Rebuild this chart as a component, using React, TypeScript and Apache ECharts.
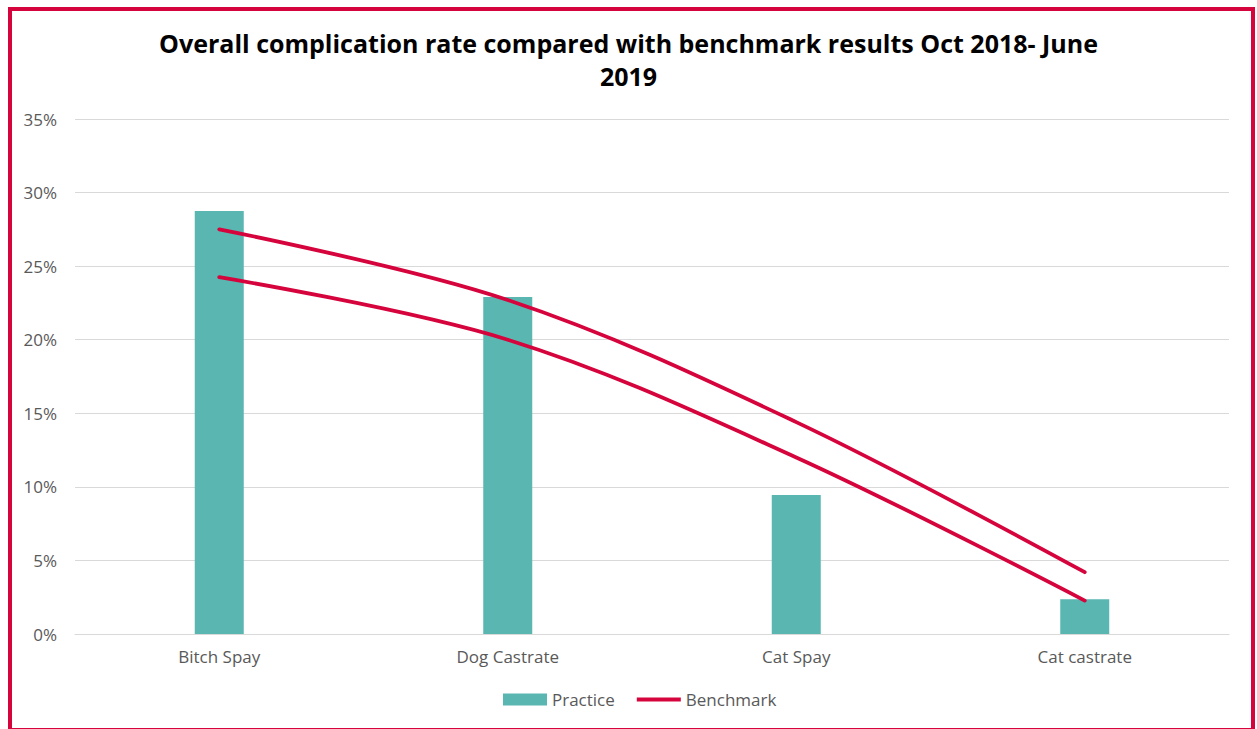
import React, { useEffect, useRef } from "react";
import * as echarts from "echarts";

// Procedure categories on the x axis
const categories = ["Bitch Spay", "Dog Castrate", "Cat Spay", "Cat castrate"];
// Practice complication rate (%)
const practice = [28.75, 22.9, 9.45, 2.37];
// Benchmark range: upper and lower bounds (%)
const benchmarkUpper = [27.5, 22.7, 14.4, 4.2];
const benchmarkLower = [24.25, 20.0, 12.0, 2.27];
// Y axis ticks
const yMax = 35;
const yStep = 5;

const titleText =
  "Overall complication rate compared with benchmark results Oct 2018- June\n2019";

export default function App() {
  const ref = useRef<HTMLDivElement>(null);

  useEffect(() => {
    if (!ref.current) return;
    const chart = echarts.init(ref.current, undefined, { renderer: "svg" });
    const font = "'Open Sans', sans-serif";
    const red = "#d6043c";
    chart.setOption({
      animation: false,
      backgroundColor: "#ffffff",
      textStyle: { fontFamily: font },
      title: {
        text: titleText,
        left: "center",
        top: 21,
        textStyle: {
          fontFamily: font,
          fontSize: 25,
          fontWeight: "bold",
          color: "#000000",
          lineHeight: 33,
        },
      },
      legend: {
        bottom: 16,
        left: 498,
        itemWidth: 44,
        itemHeight: 12,
        itemGap: 22,
        symbolKeepAspect: true,
        data: [
          { name: "Practice", icon: "rect" },
          { name: "Benchmark", icon: "path://M0,0 L44,0 L44,3.8 L0,3.8 Z" },
        ],
        textStyle: { fontFamily: font, fontSize: 17, color: "#595959" },
      },
      grid: { left: 75, right: 28, top: 119, bottom: 95 },
      xAxis: {
        type: "category",
        data: categories,
        axisLine: { lineStyle: { color: "#d9d9d9", width: 1 } },
        axisTick: { show: false },
        axisLabel: { color: "#595959", fontSize: 17, margin: 14, fontFamily: font },
      },
      yAxis: {
        type: "value",
        min: 0,
        max: yMax,
        interval: yStep,
        axisLine: { show: false },
        axisTick: { show: false },
        splitLine: { lineStyle: { color: "#d9d9d9", width: 1 } },
        axisLabel: {
          color: "#595959",
          fontSize: 17,
          margin: 18,
          fontFamily: font,
          formatter: (v: number) => `${v}%`,
        },
      },
      series: [
        {
          name: "Practice",
          type: "bar",
          data: practice,
          barWidth: 49,
          itemStyle: { color: "#59b6b1" },
        },
        {
          name: "Benchmark",
          type: "line",
          data: benchmarkUpper,
          smooth: 0.35,
          symbol: "none",
          lineStyle: { color: red, width: 3.8, cap: "round" },
          itemStyle: { color: red },
        },
        {
          name: "Benchmark",
          type: "line",
          data: benchmarkLower,
          smooth: 0.35,
          symbol: "none",
          lineStyle: { color: red, width: 3.8, cap: "round" },
          itemStyle: { color: red },
        },
      ],
      graphic: [
        {
          type: "rect",
          silent: true,
          shape: { x: 10, y: 9, width: 1243, height: 721 },
          style: { fill: "none", stroke: red, lineWidth: 4 },
          z: 100,
        },
      ],
    });
    return () => chart.dispose();
  }, []);

  return (
    <div
      ref={ref}
      style={{ position: "fixed", left: 0, top: 0, width: 1257, height: 729 }}
    />
  );
}
